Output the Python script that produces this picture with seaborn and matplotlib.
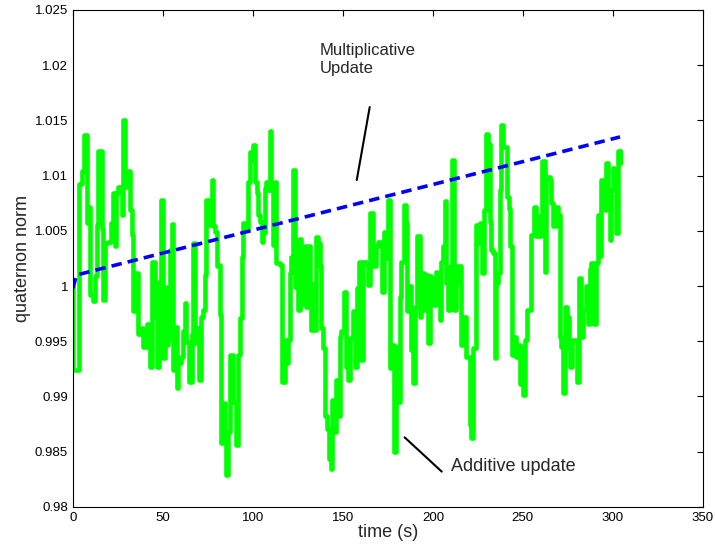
import numpy as np
import pandas as pd
import matplotlib
matplotlib.use("Agg")
import matplotlib.pyplot as plt
import seaborn as sns

# green trace: additive update (time in s, norm)
add_time = [0.0, 0.3, 3.3, 4.8, 6.2, 7.6, 8.5, 9.4, 11.3, 12.2, 13.1, 14.1, 15.9, 16.5, 17.8,
            19.6, 20.9, 22.4, 23.3, 24.2, 25.2, 27.0, 27.9, 28.9, 30.7, 31.6, 32.6, 33.5, 35.3,
            36.3, 38.1, 39.1, 40.9, 42.8, 44.2, 45.5, 46.8, 47.9, 48.7,
            50.2, 51.1, 51.6, 52.9, 53.9, 54.8, 55.7, 56.6, 57.6, 58.5, 59.8, 60.9, 62.2, 63.1,
            64.6, 65.9, 66.8, 67.7, 69.0, 70.1, 70.9, 72.4, 73.3, 74.2, 75.7, 77.0, 77.9, 78.8,
            79.8, 80.7, 81.6, 82.5, 83.5, 84.4, 85.3, 86.2, 87.5, 89.0, 90.5, 91.8, 92.7, 93.7,
            94.6, 95.5, 96.8, 97.4, 98.3,
            99.2, 100.1, 101.1, 102.0, 102.9, 103.8, 104.8, 105.7, 106.6, 107.5, 108.5, 109.4,
            110.3, 111.2, 112.2, 113.1, 114.9, 115.9, 116.4, 117.7, 118.6, 119.6, 120.5, 121.4,
            122.3, 123.3, 124.2, 125.1, 126.0, 127.0, 127.9, 128.8, 129.7, 130.7, 131.6, 132.5,
            133.4, 134.4, 135.3, 136.2, 137.1, 138.1, 139.0, 139.9, 141.2, 142.3, 143.3, 144.2,
            145.5, 146.4, 147.3, 148.3, 149.2,
            150.5, 151.6, 152.9, 154.2, 155.7, 156.6, 157.9, 159.0, 160.3, 161.2, 162.7, 164.0,
            165.3, 166.8, 168.2, 169.5, 170.5, 171.9, 172.7, 174.2, 175.1, 176.0, 177.3, 178.2,
            179.3, 180.6, 181.6, 182.5, 183.8, 184.9, 185.8, 186.7, 187.7, 189.0, 189.9, 191.4,
            192.7, 193.6, 194.9, 196.0, 197.3, 198.2,
            199.2, 200.4, 201.6, 202.3, 203.8, 204.7, 205.6, 206.6, 207.5, 208.4, 209.7, 210.8,
            211.5, 212.7, 213.4, 214.9, 215.8, 216.7, 218.2, 219.5, 220.4, 221.4, 222.3, 223.8,
            225.1, 226.4, 227.5, 228.2, 229.3, 230.6, 231.5, 232.5, 233.4, 234.3, 235.2, 236.2,
            237.1, 238.0, 238.9, 239.9, 241.2, 242.3, 243.0, 243.9, 244.9, 246.3, 247.3, 248.6,
            249.1, 250.0, 251.0, 252.3, 253.7, 254.7, 256.0, 257.1, 258.4, 259.3, 260.2, 260.8,
            262.1, 263.0, 263.9, 264.9, 265.8, 266.7, 268.2, 269.5, 270.4, 271.3, 272.3, 273.2,
            274.5, 275.6, 276.3, 277.4, 278.7, 280.0, 281.1, 282.4, 283.4, 284.3, 285.2, 286.2,
            287.1, 288.0, 288.9, 289.8, 290.8, 291.7, 292.6, 293.5, 294.5, 295.4, 296.3, 297.2,
            298.2, 299.1, 300.0, 300.9, 301.9, 302.8, 303.7, 304.2]
add_norm = [1.0000, 0.9924, 1.0092, 1.0104, 1.0137, 1.0057, 1.0072, 0.9992, 0.9986, 1.0009, 1.0055,
            1.0122, 1.0052, 0.9987, 1.0039, 1.0040, 1.0057, 1.0084, 1.0036, 1.0084, 1.0090, 1.0064,
            1.0150, 1.0090, 1.0104, 1.0069, 1.0046, 0.9977, 1.0012, 0.9957, 0.9962, 0.9945, 0.9966,
            0.9927, 1.0022, 0.9972, 0.9927, 1.0004, 1.0078,
            0.9935, 0.9999, 0.9947, 0.9954, 1.0033, 1.0056, 0.9924, 0.9963, 0.9908, 0.9930, 0.9936,
            0.9959, 0.9985, 0.9949, 0.9913, 0.9957, 1.0039, 0.9948, 0.9962, 0.9915, 0.9972, 0.9978,
            1.0010, 1.0078, 1.0055, 1.0096, 1.0054, 1.0049, 1.0018, 1.0019, 0.9974, 0.9858, 0.9894,
            0.9858, 0.9829, 0.9868, 0.9938, 0.9895, 0.9856, 0.9938, 0.9971, 1.0026, 1.0057, 1.0054,
            1.0051, 1.0094, 1.0121,
            1.0114, 1.0128, 1.0094, 1.0084, 1.0064, 1.0058, 1.0040, 1.0048, 1.0089, 1.0094, 1.0087,
            1.0140, 1.0087, 1.0037, 1.0094, 1.0021, 1.0019, 0.9971, 0.9913, 0.9951, 0.9930, 0.9951,
            1.0012, 1.0026, 1.0105, 0.9999, 1.0042, 0.9978, 1.0043, 1.0012, 0.9984, 1.0036, 0.9981,
            1.0036, 1.0002, 0.9960, 1.0002, 0.9960, 1.0044, 1.0039, 1.0018, 0.9962, 0.9944, 0.9882,
            0.9871, 0.9843, 0.9834, 0.9897, 0.9868, 0.9915, 0.9882, 0.9954, 0.9959,
            0.9995, 0.9927, 0.9915, 0.9953, 0.9977, 0.9927, 0.9998, 1.0022, 0.9933, 1.0022, 1.0021,
            1.0001, 1.0066, 1.0018, 1.0036, 1.0040, 1.0040, 0.9995, 1.0049, 1.0025, 1.0078, 0.9926,
            0.9947, 0.9850, 0.9945, 0.9895, 0.9990, 1.0022, 1.0073, 1.0057, 0.9977, 1.0000, 0.9942,
            0.9912, 0.9981, 1.0045, 0.9972, 1.0012, 0.9978, 1.0010, 0.9948, 1.0009,
            1.0006, 0.9983, 1.0013, 1.0006, 0.9969, 1.0022, 1.0036, 1.0077, 1.0003, 0.9978, 1.0018,
            1.0114, 0.9978, 1.0003, 1.0018, 1.0018, 0.9947, 0.9972, 0.9936, 0.9936, 0.9874, 0.9862,
            0.9944, 1.0055, 1.0039, 1.0057, 1.0012, 1.0069, 1.0138, 1.0129, 1.0058, 1.0033, 1.0030,
            0.9935, 1.0003, 1.0012, 1.0087, 1.0146, 1.0126, 1.0126, 1.0081, 1.0070, 1.0036, 0.9938,
            0.9954, 0.9936, 0.9947, 0.9911,
            0.9945, 0.9901, 0.9951, 0.9978, 0.9978, 1.0046, 1.0072, 1.0045, 1.0063, 1.0045, 1.0060,
            1.0113, 1.0013, 1.0099, 1.0099, 1.0096, 1.0075, 1.0054, 1.0072, 1.0064, 0.9954, 0.9945,
            0.9903, 0.9981, 0.9972, 0.9944, 0.9927, 0.9951, 0.9951, 0.9913, 1.0007, 0.9954, 0.9978,
            0.9978, 1.0000, 0.9966, 1.0015, 1.0021, 1.0021, 0.9966, 1.0021, 1.0064, 1.0027, 1.0096,
            1.0095, 1.0069, 1.0111, 1.0083, 1.0042, 1.0087, 1.0107, 1.0090, 1.0048, 1.0122, 1.0111,
            1.0122]

# blue dashed trace: multiplicative update
mul_time = [0.0, 2.0, 304.0]
mul_norm = [0.9998, 1.0010, 1.0135]

xticks = [0, 50, 100, 150, 200, 250, 300, 350]
yticks = [0.98, 0.985, 0.99, 0.995, 1.0, 1.005, 1.01, 1.015, 1.02, 1.025]
ytick_labels = ["0.98", "0.985", "0.99", "0.995", "1", "1.005", "1.01", "1.015", "1.02", "1.025"]

sns.set_style("white")
plt.rcParams['font.family'] = ['Liberation Sans', 'DejaVu Sans']

fig = plt.figure(figsize=(7.15, 5.51), dpi=100)
ax = fig.add_axes([0.102, 0.080, 0.881, 0.902])

add_df = pd.DataFrame({"t": add_time, "q": add_norm})
mul_df = pd.DataFrame({"t": mul_time, "q": mul_norm})

sns.lineplot(data=add_df, x="t", y="q", ax=ax, color=(0, 1, 0), linewidth=3.3,
             sort=False, drawstyle="steps-post")
sns.lineplot(data=mul_df, x="t", y="q", ax=ax, color=(0, 0, 1), linewidth=2.6,
             sort=False, dashes=False, linestyle=(0, (2.9, 1.7)))

# annotations
ax.plot([164.9, 157.7], [1.0162, 1.0096], color="black", linewidth=1.5)
ax.text(137.0, 1.0205, "Multiplicative\nUpdate", fontsize=12, ha="left", va="center",
        linespacing=1.3)
ax.plot([184.3, 204.9], [0.9863, 0.9832], color="black", linewidth=1.5)
ax.text(210.0, 0.9837, "Additive update", fontsize=13, ha="left", va="center")

ax.set_xlim(0, 350)
ax.set_ylim(0.98, 1.025)
ax.set_xticks(xticks)
ax.set_xticklabels([str(v) for v in xticks])
ax.set_yticks(yticks)
ax.set_yticklabels(ytick_labels)
ax.tick_params(direction="in", length=4, width=0.8, labelsize=9.5, top=True, right=True,
               colors="black")
ax.set_xlabel("time (s)", fontsize=13, labelpad=0)
ax.set_ylabel("quaternon norm", fontsize=13, labelpad=3)
for s in ax.spines.values():
    s.set_color("black")
    s.set_linewidth(0.8)

fig.savefig("out.png", dpi=100)
